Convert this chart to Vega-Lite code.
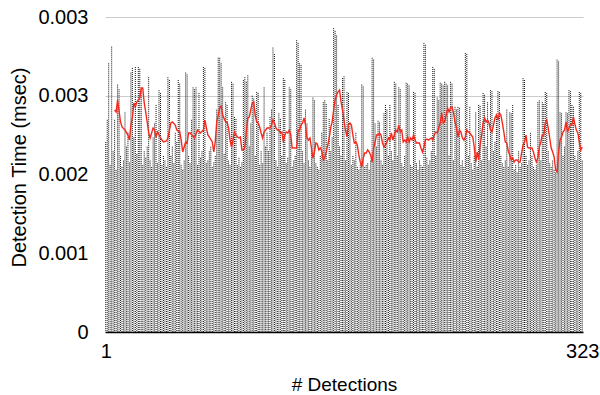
{
  "$schema": "https://vega.github.io/schema/vega-lite/v6.json",
  "width": 478,
  "height": 315,
  "autosize": {"type": "none"},
  "padding": {"left": 105, "top": 17, "right": 17, "bottom": 63},
  "background": "white",
  "config": {"view": {"stroke": null}, "font": "Liberation Sans"},
  "datasets": {
    "bars": [
      {"n":1,"t":0.00205},{"n":2,"t":0.00229},{"n":3,"t":0.00290},{"n":4,"t":0.00180},{"n":5,"t":0.00308},{"n":6,"t":0.00195},{"n":7,"t":0.00229},{"n":8,"t":0.00175},{"n":9,"t":0.00267},{"n":10,"t":0.00262},
      {"n":11,"t":0.00190},{"n":12,"t":0.00178},{"n":13,"t":0.00185},{"n":14,"t":0.00237},{"n":15,"t":0.00200},{"n":16,"t":0.00215},{"n":17,"t":0.00183},{"n":18,"t":0.00280},{"n":19,"t":0.00285},{"n":20,"t":0.00210},
      {"n":21,"t":0.00286},{"n":22,"t":0.00192},{"n":23,"t":0.00286},{"n":24,"t":0.00284},{"n":25,"t":0.00262},{"n":26,"t":0.00180},{"n":27,"t":0.00195},{"n":28,"t":0.00188},{"n":29,"t":0.00200},{"n":30,"t":0.00275},
      {"n":31,"t":0.00185},{"n":32,"t":0.00178},{"n":33,"t":0.00210},{"n":34,"t":0.00225},{"n":35,"t":0.00245},{"n":36,"t":0.00182},{"n":37,"t":0.00261},{"n":38,"t":0.00258},{"n":39,"t":0.00180},{"n":40,"t":0.00190},
      {"n":41,"t":0.00185},{"n":42,"t":0.00178},{"n":43,"t":0.00275},{"n":44,"t":0.00272},{"n":45,"t":0.00190},{"n":46,"t":0.00200},{"n":47,"t":0.00182},{"n":48,"t":0.00215},{"n":49,"t":0.00205},{"n":50,"t":0.00272},
      {"n":51,"t":0.00268},{"n":52,"t":0.00180},{"n":53,"t":0.00175},{"n":54,"t":0.00185},{"n":55,"t":0.00280},{"n":56,"t":0.00278},{"n":57,"t":0.00190},{"n":58,"t":0.00182},{"n":59,"t":0.00229},{"n":60,"t":0.00264},
      {"n":61,"t":0.00262},{"n":62,"t":0.00264},{"n":63,"t":0.00180},{"n":64,"t":0.00258},{"n":65,"t":0.00188},{"n":66,"t":0.00195},{"n":67,"t":0.00286},{"n":68,"t":0.00285},{"n":69,"t":0.00182},{"n":70,"t":0.00185},
      {"n":71,"t":0.00195},{"n":72,"t":0.00200},{"n":73,"t":0.00178},{"n":74,"t":0.00183},{"n":75,"t":0.00190},{"n":76,"t":0.00240},{"n":77,"t":0.00296},{"n":78,"t":0.00296},{"n":79,"t":0.00290},{"n":80,"t":0.00264},
      {"n":81,"t":0.00192},{"n":82,"t":0.00248},{"n":83,"t":0.00245},{"n":84,"t":0.00185},{"n":85,"t":0.00180},{"n":86,"t":0.00270},{"n":87,"t":0.00268},{"n":88,"t":0.00232},{"n":89,"t":0.00230},{"n":90,"t":0.00180},
      {"n":91,"t":0.00188},{"n":92,"t":0.00178},{"n":93,"t":0.00183},{"n":94,"t":0.00272},{"n":95,"t":0.00275},{"n":96,"t":0.00270},{"n":97,"t":0.00277},{"n":98,"t":0.00200},{"n":99,"t":0.00225},{"n":100,"t":0.00255},
      {"n":101,"t":0.00252},{"n":102,"t":0.00190},{"n":103,"t":0.00259},{"n":104,"t":0.00258},{"n":105,"t":0.00180},{"n":106,"t":0.00195},{"n":107,"t":0.00182},{"n":108,"t":0.00264},{"n":109,"t":0.00200},{"n":110,"t":0.00215},
      {"n":111,"t":0.00195},{"n":112,"t":0.00232},{"n":113,"t":0.00240},{"n":114,"t":0.00307},{"n":115,"t":0.00300},{"n":116,"t":0.00185},{"n":117,"t":0.00178},{"n":118,"t":0.00236},{"n":119,"t":0.00230},{"n":120,"t":0.00190},
      {"n":121,"t":0.00274},{"n":122,"t":0.00272},{"n":123,"t":0.00182},{"n":124,"t":0.00188},{"n":125,"t":0.00264},{"n":126,"t":0.00262},{"n":127,"t":0.00178},{"n":128,"t":0.00185},{"n":129,"t":0.00190},{"n":130,"t":0.00315},
      {"n":131,"t":0.00312},{"n":132,"t":0.00290},{"n":133,"t":0.00288},{"n":134,"t":0.00195},{"n":135,"t":0.00182},{"n":136,"t":0.00240},{"n":137,"t":0.00225},{"n":138,"t":0.00185},{"n":139,"t":0.00178},{"n":140,"t":0.00200},
      {"n":141,"t":0.00253},{"n":142,"t":0.00250},{"n":143,"t":0.00182},{"n":144,"t":0.00178},{"n":145,"t":0.00175},{"n":146,"t":0.00190},{"n":147,"t":0.00215},{"n":148,"t":0.00248},{"n":149,"t":0.00250},{"n":150,"t":0.00246},
      {"n":151,"t":0.00185},{"n":152,"t":0.00230},{"n":153,"t":0.00195},{"n":154,"t":0.00210},{"n":155,"t":0.00328},{"n":156,"t":0.00325},{"n":157,"t":0.00320},{"n":158,"t":0.00245},{"n":159,"t":0.00200},{"n":160,"t":0.00190},
      {"n":161,"t":0.00274},{"n":162,"t":0.00276},{"n":163,"t":0.00185},{"n":164,"t":0.00259},{"n":165,"t":0.00258},{"n":166,"t":0.00222},{"n":167,"t":0.00180},{"n":168,"t":0.00190},{"n":169,"t":0.00185},{"n":170,"t":0.00215},
      {"n":171,"t":0.00178},{"n":172,"t":0.00175},{"n":173,"t":0.00180},{"n":174,"t":0.00267},{"n":175,"t":0.00265},{"n":176,"t":0.00178},{"n":177,"t":0.00180},{"n":178,"t":0.00182},{"n":179,"t":0.00175},{"n":180,"t":0.00185},
      {"n":181,"t":0.00296},{"n":182,"t":0.00294},{"n":183,"t":0.00225},{"n":184,"t":0.00200},{"n":185,"t":0.00228},{"n":186,"t":0.00226},{"n":187,"t":0.00185},{"n":188,"t":0.00180},{"n":189,"t":0.00236},{"n":190,"t":0.00245},
      {"n":191,"t":0.00240},{"n":192,"t":0.00190},{"n":193,"t":0.00245},{"n":194,"t":0.00195},{"n":195,"t":0.00185},{"n":196,"t":0.00270},{"n":197,"t":0.00268},{"n":198,"t":0.00190},{"n":199,"t":0.00264},{"n":200,"t":0.00262},
      {"n":201,"t":0.00182},{"n":202,"t":0.00178},{"n":203,"t":0.00190},{"n":204,"t":0.00269},{"n":205,"t":0.00268},{"n":206,"t":0.00266},{"n":207,"t":0.00180},{"n":208,"t":0.00178},{"n":209,"t":0.00259},{"n":210,"t":0.00258},
      {"n":211,"t":0.00182},{"n":212,"t":0.00175},{"n":213,"t":0.00185},{"n":214,"t":0.00180},{"n":215,"t":0.00178},{"n":216,"t":0.00312},{"n":217,"t":0.00310},{"n":218,"t":0.00188},{"n":219,"t":0.00180},{"n":220,"t":0.00185},
      {"n":221,"t":0.00195},{"n":222,"t":0.00286},{"n":223,"t":0.00284},{"n":224,"t":0.00190},{"n":225,"t":0.00253},{"n":226,"t":0.00250},{"n":227,"t":0.00269},{"n":228,"t":0.00268},{"n":229,"t":0.00266},{"n":230,"t":0.00270},
      {"n":231,"t":0.00268},{"n":232,"t":0.00266},{"n":233,"t":0.00190},{"n":234,"t":0.00270},{"n":235,"t":0.00268},{"n":236,"t":0.00185},{"n":237,"t":0.00243},{"n":238,"t":0.00240},{"n":239,"t":0.00243},{"n":240,"t":0.00242},
      {"n":241,"t":0.00180},{"n":242,"t":0.00185},{"n":243,"t":0.00178},{"n":244,"t":0.00301},{"n":245,"t":0.00300},{"n":246,"t":0.00190},{"n":247,"t":0.00243},{"n":248,"t":0.00182},{"n":249,"t":0.00175},{"n":250,"t":0.00190},
      {"n":251,"t":0.00237},{"n":252,"t":0.00178},{"n":253,"t":0.00245},{"n":254,"t":0.00244},{"n":255,"t":0.00185},{"n":256,"t":0.00258},{"n":257,"t":0.00256},{"n":258,"t":0.00200},{"n":259,"t":0.00248},{"n":260,"t":0.00185},
      {"n":261,"t":0.00261},{"n":262,"t":0.00260},{"n":263,"t":0.00195},{"n":264,"t":0.00205},{"n":265,"t":0.00232},{"n":266,"t":0.00260},{"n":267,"t":0.00259},{"n":268,"t":0.00190},{"n":269,"t":0.00182},{"n":270,"t":0.00178},
      {"n":271,"t":0.00185},{"n":272,"t":0.00240},{"n":273,"t":0.00178},{"n":274,"t":0.00237},{"n":275,"t":0.00236},{"n":276,"t":0.00245},{"n":277,"t":0.00175},{"n":278,"t":0.00180},{"n":279,"t":0.00172},{"n":280,"t":0.00195},
      {"n":281,"t":0.00178},{"n":282,"t":0.00182},{"n":283,"t":0.00274},{"n":284,"t":0.00272},{"n":285,"t":0.00190},{"n":286,"t":0.00180},{"n":287,"t":0.00185},{"n":288,"t":0.00215},{"n":289,"t":0.00190},{"n":290,"t":0.00178},
      {"n":291,"t":0.00175},{"n":292,"t":0.00180},{"n":293,"t":0.00248},{"n":294,"t":0.00250},{"n":295,"t":0.00185},{"n":296,"t":0.00248},{"n":297,"t":0.00246},{"n":298,"t":0.00259},{"n":299,"t":0.00258},{"n":300,"t":0.00195},
      {"n":301,"t":0.00182},{"n":302,"t":0.00178},{"n":303,"t":0.00185},{"n":304,"t":0.00175},{"n":305,"t":0.00172},{"n":306,"t":0.00294},{"n":307,"t":0.00292},{"n":308,"t":0.00237},{"n":309,"t":0.00236},{"n":310,"t":0.00190},
      {"n":311,"t":0.00200},{"n":312,"t":0.00237},{"n":313,"t":0.00236},{"n":314,"t":0.00261},{"n":315,"t":0.00260},{"n":316,"t":0.00245},{"n":317,"t":0.00243},{"n":318,"t":0.00190},{"n":319,"t":0.00185},{"n":320,"t":0.00195},
      {"n":321,"t":0.00259},{"n":322,"t":0.00258},{"n":323,"t":0.00185}
    ],
    "avg": [
      {"n":7,"t":0.002396},{"n":8,"t":0.002375},{"n":9,"t":0.002504},{"n":11,"t":0.002267},{"n":12,"t":0.002213},{"n":14,"t":0.00218},{"n":16,"t":0.002126},{"n":17,"t":0.002072},{"n":18,"t":0.002234},{"n":19,"t":0.00231},
      {"n":20,"t":0.002472},{"n":21,"t":0.002429},{"n":22,"t":0.002483},{"n":24,"t":0.002526},{"n":25,"t":0.002634},{"n":26,"t":0.002634},{"n":27,"t":0.002472},{"n":28,"t":0.002375},{"n":29,"t":0.002267},{"n":30,"t":0.002148},
      {"n":31,"t":0.002094},{"n":33,"t":0.002202},{"n":34,"t":0.00218},{"n":35,"t":0.002105},{"n":36,"t":0.002159},{"n":38,"t":0.002094},{"n":39,"t":0.002072},{"n":40,"t":0.002051},{"n":42,"t":0.002062},{"n":43,"t":0.002094},
      {"n":45,"t":0.002256},{"n":46,"t":0.002267},{"n":48,"t":0.002234},{"n":49,"t":0.00218},{"n":51,"t":0.002159},{"n":52,"t":0.002072},{"n":53,"t":0.001943},{"n":55,"t":0.002051},{"n":56,"t":0.00204},{"n":57,"t":0.002148},
      {"n":58,"t":0.002148},{"n":61,"t":0.002094},{"n":63,"t":0.00218},{"n":65,"t":0.002148},{"n":67,"t":0.00218},{"n":68,"t":0.002288},{"n":70,"t":0.002126},{"n":71,"t":0.002105},{"n":73,"t":0.002051},{"n":74,"t":0.001943},
      {"n":75,"t":0.002051},{"n":76,"t":0.002267},{"n":77,"t":0.002342},{"n":78,"t":0.002418},{"n":79,"t":0.002439},{"n":80,"t":0.002342},{"n":82,"t":0.002267},{"n":83,"t":0.002267},{"n":84,"t":0.002202},{"n":85,"t":0.002072},
      {"n":86,"t":0.001997},{"n":87,"t":0.002072},{"n":88,"t":0.002159},{"n":89,"t":0.002126},{"n":90,"t":0.002105},{"n":91,"t":0.002094},{"n":92,"t":0.002105},{"n":93,"t":0.001965},{"n":94,"t":0.001965},{"n":95,"t":0.001997},
      {"n":96,"t":0.002159},{"n":97,"t":0.00231},{"n":98,"t":0.002321},{"n":100,"t":0.002472},{"n":101,"t":0.002483},{"n":102,"t":0.002342},{"n":103,"t":0.002267},{"n":104,"t":0.002256},{"n":105,"t":0.002213},{"n":106,"t":0.002148},
      {"n":107,"t":0.002094},{"n":108,"t":0.002159},{"n":109,"t":0.00218},{"n":110,"t":0.002202},{"n":111,"t":0.002202},{"n":112,"t":0.002202},{"n":113,"t":0.002234},{"n":114,"t":0.002288},{"n":115,"t":0.002256},{"n":116,"t":0.002202},
      {"n":117,"t":0.00218},{"n":118,"t":0.00218},{"n":119,"t":0.002148},{"n":120,"t":0.002159},{"n":121,"t":0.002051},{"n":122,"t":0.002126},{"n":123,"t":0.002159},{"n":124,"t":0.002148},{"n":125,"t":0.00218},{"n":126,"t":0.002126},
      {"n":127,"t":0.001986},{"n":128,"t":0.001986},{"n":130,"t":0.001986},{"n":131,"t":0.00218},{"n":132,"t":0.00218},{"n":133,"t":0.002234},{"n":134,"t":0.002256},{"n":135,"t":0.00231},{"n":136,"t":0.002234},{"n":137,"t":0.002094},
      {"n":138,"t":0.002072},{"n":139,"t":0.002094},{"n":140,"t":0.001986},{"n":141,"t":0.001878},{"n":142,"t":0.001943},{"n":143,"t":0.00204},{"n":144,"t":0.002029},{"n":145,"t":0.001965},{"n":146,"t":0.001986},{"n":147,"t":0.001954},
      {"n":148,"t":0.001857},{"n":149,"t":0.001878},{"n":150,"t":0.001943},{"n":151,"t":0.002018},{"n":152,"t":0.002094},{"n":153,"t":0.002202},{"n":154,"t":0.002267},{"n":155,"t":0.002396},{"n":156,"t":0.002504},{"n":157,"t":0.002558},
      {"n":158,"t":0.002591},{"n":159,"t":0.002612},{"n":160,"t":0.002483},{"n":161,"t":0.002396},{"n":162,"t":0.002288},{"n":163,"t":0.00218},{"n":164,"t":0.002105},{"n":165,"t":0.002234},{"n":166,"t":0.002256},{"n":167,"t":0.002234},
      {"n":168,"t":0.002126},{"n":169,"t":0.00204},{"n":170,"t":0.002051},{"n":171,"t":0.002018},{"n":172,"t":0.001911},{"n":173,"t":0.001835},{"n":174,"t":0.001781},{"n":175,"t":0.001878},{"n":176,"t":0.001932},{"n":177,"t":0.001932},
      {"n":178,"t":0.001965},{"n":179,"t":0.001943},{"n":180,"t":0.001911},{"n":181,"t":0.001835},{"n":182,"t":0.001986},{"n":183,"t":0.002051},{"n":184,"t":0.002126},{"n":185,"t":0.002126},{"n":186,"t":0.002148},{"n":187,"t":0.002126},
      {"n":188,"t":0.00204},{"n":189,"t":0.001997},{"n":190,"t":0.002018},{"n":191,"t":0.002051},{"n":192,"t":0.002094},{"n":193,"t":0.002072},{"n":194,"t":0.002148},{"n":195,"t":0.002072},{"n":196,"t":0.002126},{"n":197,"t":0.00218},
      {"n":198,"t":0.002159},{"n":199,"t":0.002234},{"n":200,"t":0.002159},{"n":201,"t":0.00218},{"n":202,"t":0.002051},{"n":203,"t":0.002072},{"n":204,"t":0.002051},{"n":205,"t":0.002105},{"n":206,"t":0.002051},{"n":207,"t":0.002094},
      {"n":208,"t":0.002072},{"n":209,"t":0.002126},{"n":210,"t":0.002072},{"n":211,"t":0.00204},{"n":212,"t":0.00204},{"n":213,"t":0.00204},{"n":214,"t":0.001986},{"n":215,"t":0.001943},{"n":216,"t":0.001997},{"n":217,"t":0.002072},
      {"n":218,"t":0.002083},{"n":219,"t":0.002072},{"n":221,"t":0.002094},{"n":222,"t":0.002072},{"n":223,"t":0.002126},{"n":224,"t":0.002159},{"n":225,"t":0.002148},{"n":226,"t":0.002202},{"n":227,"t":0.002256},{"n":228,"t":0.002364},
      {"n":229,"t":0.002256},{"n":230,"t":0.002267},{"n":231,"t":0.002342},{"n":232,"t":0.002418},{"n":233,"t":0.002375},{"n":234,"t":0.002418},{"n":235,"t":0.002429},{"n":236,"t":0.002364},{"n":237,"t":0.002267},{"n":238,"t":0.002202},
      {"n":239,"t":0.002105},{"n":240,"t":0.00218},{"n":241,"t":0.002159},{"n":242,"t":0.002094},{"n":243,"t":0.002072},{"n":244,"t":0.002105},{"n":245,"t":0.00218},{"n":246,"t":0.002159},{"n":247,"t":0.002148},{"n":248,"t":0.002126},
      {"n":249,"t":0.002105},{"n":250,"t":0.001997},{"n":251,"t":0.001835},{"n":252,"t":0.001943},{"n":253,"t":0.001857},{"n":254,"t":0.002018},{"n":255,"t":0.002126},{"n":256,"t":0.002256},{"n":257,"t":0.00231},{"n":258,"t":0.002267},
      {"n":259,"t":0.002288},{"n":260,"t":0.002256},{"n":261,"t":0.00218},{"n":262,"t":0.002159},{"n":263,"t":0.002234},{"n":264,"t":0.00231},{"n":265,"t":0.002342},{"n":266,"t":0.002288},{"n":267,"t":0.002364},{"n":268,"t":0.002342},
      {"n":269,"t":0.002256},{"n":270,"t":0.002159},{"n":271,"t":0.002051},{"n":272,"t":0.00204},{"n":273,"t":0.001954},{"n":274,"t":0.001911},{"n":275,"t":0.001857},{"n":276,"t":0.001878},{"n":277,"t":0.001835},{"n":278,"t":0.001857},
      {"n":279,"t":0.001857},{"n":280,"t":0.001835},{"n":281,"t":0.001835},{"n":282,"t":0.001932},{"n":283,"t":0.002018},{"n":284,"t":0.002051},{"n":285,"t":0.002126},{"n":286,"t":0.001997},{"n":287,"t":0.001986},{"n":288,"t":0.001986},
      {"n":289,"t":0.001986},{"n":290,"t":0.001943},{"n":291,"t":0.001878},{"n":292,"t":0.001835},{"n":293,"t":0.001878},{"n":294,"t":0.001997},{"n":295,"t":0.002051},{"n":296,"t":0.002126},{"n":297,"t":0.002126},{"n":298,"t":0.002256},
      {"n":299,"t":0.002288},{"n":300,"t":0.002202},{"n":301,"t":0.002094},{"n":302,"t":0.001986},{"n":303,"t":0.001943},{"n":304,"t":0.001889},{"n":305,"t":0.001749},{"n":306,"t":0.001727},{"n":307,"t":0.001943},{"n":308,"t":0.002072},
      {"n":309,"t":0.002105},{"n":310,"t":0.002159},{"n":311,"t":0.00218},{"n":312,"t":0.002267},{"n":313,"t":0.002159},{"n":314,"t":0.002202},{"n":315,"t":0.002234},{"n":316,"t":0.002234},{"n":317,"t":0.002321},{"n":318,"t":0.002245},
      {"n":319,"t":0.00218},{"n":320,"t":0.002148},{"n":321,"t":0.002051},{"n":322,"t":0.001965},{"n":323,"t":0.001997}
    ]
  },
  "layer": [
    {
      "data": {"name": "bars"},
      "mark": {"type": "rule", "color": "#111111", "strokeWidth": 1, "strokeDash": [1, 1]},
      "encoding": {
        "x": {
          "field": "n", "type": "quantitative",
          "scale": {"domain": [0.5, 323.5], "nice": false, "zero": false},
          "axis": {
            "values": [1, 323], "grid": false, "ticks": false,
            "domain": true, "domainColor": "#000000", "domainWidth": 1.5,
            "labelFontSize": 20, "labelColor": "#000000", "labelPadding": 9, "labelFlush": false,
            "title": "# Detections", "titleFontSize": 19, "titleFontWeight": "normal", "titleColor": "#000000",
            "titleY": 52, "titleBaseline": "middle"
          }
        },
        "y": {
          "field": "t", "type": "quantitative",
          "scale": {"domain": [0, 0.0034], "nice": false},
          "axis": {
            "values": [0, 0.00085, 0.0017, 0.00255, 0.0034],
            "labelExpr": "datum.value == 0 ? '0' : format(datum.value, '.3f')",
            "grid": true, "gridColor": "#cccccc", "gridWidth": 1,
            "gridOpacity": {"condition": {"test": "datum.value < 0.002", "value": 0}, "value": 1},
            "domain": false, "ticks": false,
            "labelFontSize": 20, "labelColor": "#000000", "labelPadding": 17,
            "title": "Detection Time (msec)", "titleFontSize": 20, "titleFontWeight": "normal", "titleColor": "#000000",
            "titleX": -86, "titleY": 150, "titleAngle": -90, "titleAlign": "center", "titleBaseline": "middle"
          }
        },
        "y2": {"datum": 0}
      }
    },
    {
      "data": {"name": "avg"},
      "mark": {"type": "line", "color": "#f5291d", "strokeWidth": 1.4},
      "encoding": {
        "x": {"field": "n", "type": "quantitative"},
        "y": {"field": "t", "type": "quantitative"}
      }
    }
  ]
}
